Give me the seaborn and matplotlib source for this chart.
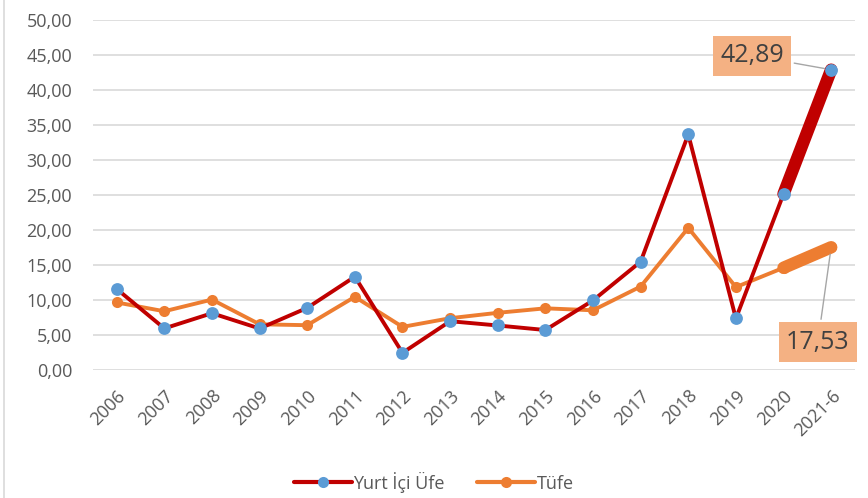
import numpy as np
import pandas as pd
import matplotlib
matplotlib.use('Agg')
import matplotlib.pyplot as plt
import seaborn as sns
from matplotlib.lines import Line2D

# data
years = ['2006', '2007', '2008', '2009', '2010', '2011', '2012', '2013',
         '2014', '2015', '2016', '2017', '2018', '2019', '2020', '2021-6']
ufe = [11.58, 5.94, 8.11, 5.93, 8.87, 13.33, 2.45, 6.97,
       6.36, 5.71, 9.94, 15.47, 33.64, 7.36, 25.15, 42.89]
tufe = [9.65, 8.39, 10.06, 6.53, 6.40, 10.45, 6.16, 7.40,
        8.17, 8.81, 8.53, 11.92, 20.30, 11.84, 14.60, 17.53]
series_names = ['Yurt İçi Üfe', 'Tüfe']

red = '#C00000'
blue = '#5B9BD5'
orange = '#ED7D31'
label_fill = '#F4B183'
grey_text = '#595959'

sns.set_style('white')
plt.rcParams['font.family'] = ['Open Sans', 'DejaVu Sans']

df = pd.DataFrame({'pos': np.arange(len(years)), 'year': years,
                   'ufe': ufe, 'tufe': tufe})
last = df.tail(2)

fig = plt.figure(figsize=(8.68, 4.98), dpi=100)
ax = fig.add_axes([0.107, 0.257, 0.878, 0.703])

# tufe first so ufe sits on top
sns.lineplot(data=df, x='pos', y='tufe', ax=ax, color=orange, linewidth=2.8,
             marker='o', markersize=8, markeredgewidth=0, markerfacecolor=orange,
             zorder=3)
sns.lineplot(data=last, x='pos', y='tufe', ax=ax, color=orange, linewidth=9,
             solid_capstyle='round', zorder=3)
sns.lineplot(data=df, x='pos', y='ufe', ax=ax, color=red, linewidth=2.8,
             zorder=4)
sns.lineplot(data=last, x='pos', y='ufe', ax=ax, color=red, linewidth=9,
             solid_capstyle='round', zorder=4)
sns.scatterplot(data=df, x='pos', y='ufe', ax=ax, color=blue, s=85,
                linewidth=0, zorder=5)

ax.set_xlim(-0.5, len(years) - 0.5)
ax.set_ylim(0, 50)
ax.set_yticks(np.arange(0, 51, 5))
ax.set_yticklabels([f'{v:.2f}'.replace('.', ',') for v in np.arange(0, 51, 5)])
ax.set_xticks(df['pos'])
ax.set_xticklabels(years, rotation=45, ha='right', rotation_mode='anchor')
ax.tick_params(axis='y', length=0, pad=15, labelsize=13, labelcolor=grey_text)
ax.tick_params(axis='x', length=0, pad=12, labelsize=13, labelcolor=grey_text)
ax.set_xlabel(None)
ax.set_ylabel(None)
ax.grid(axis='y', color='#d9d9d9', linewidth=1.2)
ax.set_axisbelow(True)
sns.despine(ax=ax, left=True, bottom=True)

# callouts for the last values
box = dict(boxstyle='square,pad=0.3', fc=label_fill, ec='none')
ax.annotate(f'{ufe[-1]:.2f}'.replace('.', ','), xy=(df['pos'].iloc[-1], ufe[-1]),
            xytext=(13.34, 44.9), ha='center', va='center', fontsize=18,
            color='#404040', bbox=box,
            arrowprops=dict(arrowstyle='-', color='#a6a6a6', lw=1, shrinkB=5))
ax.annotate(f'{tufe[-1]:.2f}'.replace('.', ','), xy=(df['pos'].iloc[-1], tufe[-1]),
            xytext=(14.72, 4.0), ha='center', va='center', fontsize=18,
            color='#404040', bbox=box,
            arrowprops=dict(arrowstyle='-', color='#a6a6a6', lw=1, shrinkB=5))

handles = [Line2D([], [], color=red, linewidth=3, marker='o', markersize=8,
                  markerfacecolor=blue, markeredgewidth=0),
           Line2D([], [], color=orange, linewidth=3, marker='o', markersize=8,
                  markerfacecolor=orange, markeredgewidth=0)]
fig.legend(handles, series_names, loc='lower center', bbox_to_anchor=(0.5, -0.022),
           ncol=2, frameon=False, fontsize=13, handlelength=3.2,
           handletextpad=0.1, columnspacing=1.8, labelcolor=grey_text)

# light frame line at the left edge
fig.add_artist(Line2D([0.005, 0.005], [0, 1], color='#d9d9d9', linewidth=1.2))

fig.savefig('out.png', dpi=100)
